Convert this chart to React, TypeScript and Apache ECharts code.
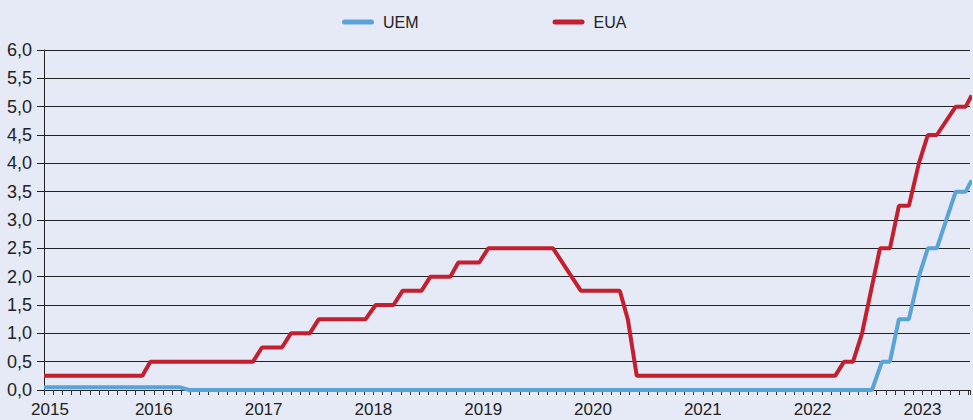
import React, { useEffect, useRef } from "react";
import * as echarts from "echarts";

// X positions are months elapsed since January 2015
const START_YEAR = 2015;
const YEAR_LABELS = ["2015", "2016", "2017", "2018", "2019", "2020", "2021", "2022", "2023"];
const X_MAX_MONTHS = 101.2;

const Y_MIN = 0;
const Y_MAX = 6;
const Y_STEP = 0.5;

const SERIES_NAMES = ["UEM", "EUA"];

const UEM_MONTHS = [0, 14.78, 15.87, 90.49, 91.58, 92.45, 93.43, 94.52, 95.61, 96.59, 97.57, 99.64, 100.73, 101.38];
const UEM_RATES = [0.05, 0.05, 0, 0, 0.5, 0.5, 1.25, 1.25, 2.0, 2.5, 2.5, 3.5, 3.5, 3.7];

const EUA_MONTHS = [
  0, 10.75, 11.62, 22.84, 23.82, 26.0, 26.98, 29.05, 30.03, 35.15, 36.24, 38.2, 39.18, 41.25, 42.23,
  44.41, 45.28, 47.57, 48.55, 55.63, 58.68, 62.93, 63.8, 64.78, 86.46, 87.44, 88.42, 89.4, 91.36,
  92.45, 93.43, 94.52, 95.61, 96.59, 97.57, 99.64, 100.73, 101.38,
];
const EUA_RATES = [
  0.25, 0.25, 0.5, 0.5, 0.75, 0.75, 1.0, 1.0, 1.25, 1.25, 1.5, 1.5, 1.75, 1.75, 2.0,
  2.0, 2.25, 2.25, 2.5, 2.5, 1.75, 1.75, 1.25, 0.25, 0.25, 0.5, 0.5, 1.0, 2.5,
  2.5, 3.25, 3.25, 4.0, 4.5, 4.5, 5.0, 5.0, 5.2,
];

const COLORS = ["#5aa3d7", "#c41f2f"];
const BG = "#e5eaf6";
const FONT = "'Liberation Sans', Arial, Helvetica, sans-serif";
const TEXT = "#222222";

const zip = (xs: number[], ys: number[]) => xs.map((x, i) => [x, ys[i]]);

export default function App() {
  const ref = useRef<HTMLDivElement>(null);

  useEffect(() => {
    if (!ref.current) return;
    const chart = echarts.init(ref.current, undefined, { renderer: "svg" });
    chart.setOption({
      animation: false,
      backgroundColor: BG,
      textStyle: { fontFamily: FONT },
      legend: {
        top: 9,
        left: 337,
        itemGap: 134,
        itemWidth: 32,
        itemHeight: 5,
        icon: "path://M2.5,0 L29.5,0 A2.5,2.5 0 0 1 29.5,5 L2.5,5 A2.5,2.5 0 0 1 2.5,0 Z",
        textStyle: { fontFamily: FONT, fontSize: 16, color: TEXT, padding: [0, 0, 0, 4] },
        data: SERIES_NAMES,
      },
      grid: { left: 44, right: 0, top: 50, bottom: 30, containLabel: false },
      xAxis: {
        type: "value",
        min: 0,
        max: X_MAX_MONTHS,
        interval: 1,
        axisLine: { show: true, lineStyle: { color: "#222", width: 1 } },
        axisTick: { show: true, length: 5, lineStyle: { color: "#333", width: 1 } },
        splitLine: { show: false },
        axisLabel: {
          fontFamily: FONT,
          fontSize: 17,
          color: TEXT,
          margin: 11,
          rich: { first: { fontFamily: FONT, fontSize: 17, color: TEXT, padding: [0, 0, 0, 12] } },
          formatter: (v: number) => {
            const r = Math.round(v);
            if (Math.abs(v - r) > 1e-6 || r % 12 !== 0) return "";
            const label = YEAR_LABELS[r / 12] ?? String(START_YEAR + r / 12);
            return r === 0 ? `{first|${label}}` : label;
          },
        },
      },
      yAxis: {
        type: "value",
        min: Y_MIN,
        max: Y_MAX,
        interval: Y_STEP,
        axisLine: { show: true, lineStyle: { color: "#222", width: 1 } },
        axisTick: { show: true, length: 7, lineStyle: { color: "#222", width: 1 } },
        splitLine: { show: true, lineStyle: { color: "#222", width: 1 } },
        axisLabel: {
          fontFamily: FONT,
          fontSize: 18,
          color: TEXT,
          margin: 12,
          formatter: (v: number) => v.toFixed(1).replace(".", ","),
        },
      },
      series: [
        {
          name: SERIES_NAMES[0],
          type: "line",
          symbol: "none",
          showSymbol: false,
          color: COLORS[0],
          lineStyle: { width: 4, color: COLORS[0] },
          data: zip(UEM_MONTHS, UEM_RATES),
          z: 3,
        },
        {
          name: SERIES_NAMES[1],
          type: "line",
          symbol: "none",
          showSymbol: false,
          color: COLORS[1],
          lineStyle: { width: 4, color: COLORS[1] },
          data: zip(EUA_MONTHS, EUA_RATES),
          z: 4,
        },
      ],
    });
    return () => chart.dispose();
  }, []);

  return (
    <div
      ref={ref}
      style={{ position: "fixed", left: 0, top: 0, width: 973, height: 420, background: BG }}
    />
  );
}
